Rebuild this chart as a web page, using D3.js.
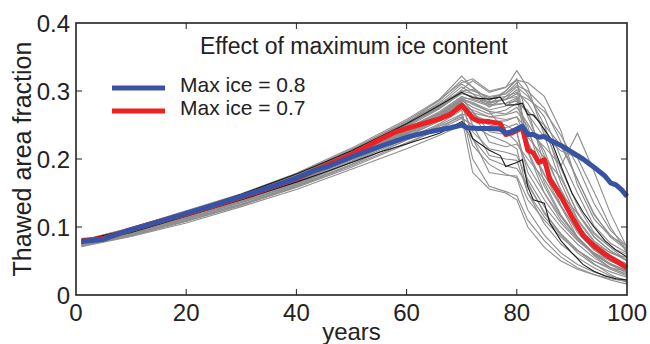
<!DOCTYPE html>
<html>
<head>
<meta charset="utf-8">
<script src="https://cdn.jsdelivr.net/npm/d3@7"></script>
<style>
  body { margin: 0; background: #fff; }
  svg { display: block; font-family: 'Liberation Sans', Arial, Helvetica, sans-serif; }
</style>
</head>
<body>
<svg id="chart"></svg>
<script>
const memberYears = [1, 10, 20, 30, 40, 50, 60, 66, 70, 72, 75, 78, 80, 82, 85, 88, 91, 94, 97, 100];

// thin gray ensemble members
const members = [
  [0.076,0.094,0.118,0.142,0.172,0.208,0.252,0.288,0.322,0.305,0.280,0.300,0.318,0.210,0.150,0.110,0.082,0.062,0.050,0.040],
  [0.078,0.097,0.122,0.147,0.176,0.212,0.250,0.275,0.302,0.315,0.298,0.305,0.330,0.305,0.235,0.165,0.112,0.080,0.062,0.052],
  [0.072,0.087,0.108,0.132,0.158,0.188,0.222,0.245,0.265,0.220,0.192,0.178,0.172,0.125,0.088,0.062,0.045,0.034,0.026,0.020],
  [0.077,0.095,0.119,0.143,0.170,0.204,0.242,0.266,0.286,0.276,0.266,0.272,0.282,0.272,0.192,0.132,0.092,0.066,0.050,0.040],
  [0.079,0.098,0.122,0.146,0.175,0.212,0.252,0.276,0.296,0.292,0.282,0.288,0.302,0.222,0.176,0.140,0.102,0.076,0.062,0.055],
  [0.071,0.086,0.106,0.130,0.155,0.185,0.215,0.235,0.250,0.230,0.200,0.190,0.186,0.162,0.122,0.090,0.066,0.046,0.030,0.018],
  [0.076,0.094,0.117,0.140,0.168,0.200,0.238,0.262,0.280,0.262,0.250,0.246,0.252,0.232,0.202,0.172,0.122,0.086,0.065,0.050],
  [0.078,0.097,0.121,0.145,0.174,0.208,0.248,0.280,0.306,0.296,0.276,0.292,0.306,0.292,0.262,0.202,0.150,0.102,0.076,0.062],
  [0.074,0.090,0.112,0.136,0.162,0.195,0.230,0.252,0.272,0.200,0.160,0.152,0.146,0.110,0.080,0.056,0.040,0.030,0.022,0.016],
  [0.077,0.095,0.118,0.142,0.170,0.205,0.244,0.268,0.290,0.280,0.270,0.266,0.276,0.252,0.212,0.152,0.102,0.072,0.056,0.046],
  [0.080,0.099,0.124,0.149,0.179,0.216,0.258,0.288,0.312,0.318,0.300,0.306,0.316,0.312,0.292,0.242,0.162,0.112,0.086,0.072],
  [0.075,0.092,0.114,0.138,0.166,0.199,0.236,0.258,0.278,0.240,0.215,0.210,0.205,0.170,0.130,0.100,0.075,0.055,0.040,0.030],
  [0.078,0.096,0.120,0.144,0.172,0.206,0.245,0.270,0.292,0.286,0.278,0.282,0.290,0.212,0.160,0.116,0.086,0.060,0.046,0.035],
  [0.073,0.089,0.111,0.134,0.161,0.192,0.228,0.250,0.266,0.262,0.255,0.256,0.262,0.242,0.218,0.190,0.238,0.182,0.120,0.070],
  [0.076,0.094,0.117,0.141,0.169,0.203,0.241,0.264,0.283,0.270,0.240,0.236,0.240,0.180,0.140,0.106,0.080,0.060,0.045,0.032],
  [0.079,0.098,0.123,0.148,0.177,0.214,0.254,0.281,0.300,0.296,0.288,0.292,0.298,0.282,0.242,0.186,0.132,0.092,0.070,0.060],
  [0.072,0.088,0.109,0.132,0.159,0.190,0.224,0.244,0.260,0.250,0.235,0.225,0.215,0.150,0.105,0.075,0.055,0.040,0.028,0.022],
  [0.076,0.095,0.118,0.141,0.169,0.202,0.240,0.266,0.288,0.283,0.272,0.278,0.288,0.266,0.232,0.212,0.202,0.152,0.100,0.062],
  [0.078,0.096,0.120,0.144,0.173,0.208,0.247,0.274,0.297,0.292,0.284,0.288,0.292,0.240,0.190,0.150,0.120,0.090,0.070,0.050],
  [0.073,0.089,0.110,0.133,0.160,0.192,0.228,0.248,0.262,0.180,0.156,0.150,0.140,0.100,0.070,0.050,0.038,0.030,0.024,0.020],
  [0.077,0.096,0.119,0.143,0.171,0.205,0.243,0.268,0.290,0.288,0.280,0.282,0.285,0.270,0.250,0.220,0.170,0.120,0.085,0.066],
  [0.075,0.093,0.116,0.139,0.166,0.200,0.237,0.260,0.282,0.265,0.255,0.250,0.240,0.165,0.120,0.090,0.066,0.050,0.038,0.028],
  [0.080,0.099,0.123,0.148,0.178,0.214,0.256,0.286,0.316,0.306,0.286,0.300,0.316,0.296,0.250,0.176,0.120,0.085,0.065,0.050],
  [0.077,0.095,0.118,0.141,0.168,0.203,0.239,0.262,0.284,0.230,0.180,0.176,0.175,0.140,0.110,0.085,0.065,0.050,0.040,0.035],
  [0.074,0.091,0.113,0.136,0.163,0.196,0.233,0.256,0.276,0.272,0.262,0.258,0.262,0.225,0.178,0.130,0.085,0.058,0.040,0.030],
  [0.079,0.097,0.121,0.146,0.175,0.210,0.250,0.278,0.300,0.302,0.290,0.296,0.308,0.300,0.275,0.225,0.170,0.118,0.088,0.068],
  [0.075,0.093,0.115,0.139,0.167,0.201,0.238,0.262,0.286,0.250,0.205,0.200,0.198,0.150,0.115,0.088,0.062,0.045,0.034,0.026],
  [0.078,0.097,0.121,0.146,0.174,0.209,0.249,0.276,0.298,0.290,0.283,0.287,0.296,0.288,0.270,0.235,0.190,0.135,0.095,0.072],
  [0.076,0.094,0.116,0.140,0.168,0.201,0.239,0.264,0.286,0.282,0.270,0.240,0.225,0.190,0.150,0.115,0.084,0.060,0.044,0.034],
  [0.074,0.091,0.113,0.137,0.164,0.197,0.234,0.257,0.274,0.268,0.262,0.265,0.270,0.248,0.165,0.118,0.085,0.062,0.046,0.036],
  [0.079,0.098,0.122,0.147,0.176,0.212,0.253,0.283,0.310,0.300,0.292,0.296,0.312,0.262,0.205,0.155,0.110,0.078,0.058,0.045],
  [0.077,0.095,0.118,0.142,0.170,0.204,0.242,0.266,0.288,0.270,0.225,0.218,0.222,0.200,0.170,0.130,0.095,0.068,0.050,0.040]
];

// two black members
const upperYears = [1, 10, 20, 30, 40, 45, 50, 55, 60, 66, 70, 72, 75, 77, 78, 80, 81, 82, 83, 84, 86, 88, 90, 92, 94, 96, 98, 100];
const upperVals  = [0.080, 0.097, 0.121, 0.148, 0.178, 0.195, 0.212, 0.232, 0.252, 0.279, 0.298, 0.290, 0.288, 0.291, 0.279, 0.280, 0.282, 0.265, 0.265, 0.255, 0.232, 0.190, 0.150, 0.122, 0.100, 0.080, 0.066, 0.056];
const lowerYears = [1, 10, 20, 30, 40, 45, 50, 55, 60, 66, 70, 71, 72, 75, 77, 78, 80, 81, 82, 83, 85, 86, 88, 90, 92, 94, 96, 98, 100];
const lowerVals  = [0.076, 0.092, 0.116, 0.140, 0.166, 0.180, 0.195, 0.210, 0.222, 0.238, 0.255, 0.248, 0.230, 0.213, 0.205, 0.189, 0.195, 0.199, 0.159, 0.140, 0.135, 0.106, 0.080, 0.062, 0.045, 0.035, 0.028, 0.024, 0.022];

// Max ice = 0.8
const blueYears = [1, 3, 5, 7, 10, 13, 16, 20, 25, 30, 35, 40, 43, 46, 50, 55, 60, 63, 66, 68, 70, 71, 73, 75, 77, 78, 79, 81, 82, 83, 84, 85, 86, 88, 90, 92, 94, 96, 97, 98, 99, 100];
const blueVals  = [0.079, 0.080, 0.082, 0.088, 0.096, 0.103, 0.110, 0.120, 0.132, 0.145, 0.158, 0.172, 0.182, 0.190, 0.203, 0.218, 0.232, 0.238, 0.243, 0.246, 0.250, 0.246, 0.245, 0.245, 0.244, 0.238, 0.240, 0.248, 0.236, 0.236, 0.232, 0.233, 0.228, 0.220, 0.210, 0.200, 0.188, 0.175, 0.165, 0.162, 0.155, 0.145];

// Max ice = 0.7
const redYears = [1, 5, 10, 15, 20, 25, 30, 35, 40, 43, 46, 50, 55, 58, 60, 63, 66, 68, 70, 71, 72, 73, 75, 77, 78, 79, 81, 82, 83, 84, 85, 86, 88, 89, 90, 92, 94, 96, 98, 100];
const redVals  = [0.080, 0.083, 0.096, 0.108, 0.119, 0.131, 0.144, 0.157, 0.171, 0.182, 0.193, 0.207, 0.228, 0.240, 0.245, 0.252, 0.259, 0.266, 0.279, 0.270, 0.260, 0.256, 0.255, 0.252, 0.236, 0.238, 0.246, 0.213, 0.209, 0.195, 0.199, 0.170, 0.145, 0.130, 0.115, 0.088, 0.072, 0.060, 0.050, 0.040];

const xTicks = [0, 20, 40, 60, 80, 100];
const yTicks = [0, 0.1, 0.2, 0.3, 0.4];
const legendLabels = ['Max ice = 0.8', 'Max ice = 0.7'];
const legendColors = ['#3953a4', '#ed2024'];

const W = 650, H = 344;
const margin = { top: 23, right: 23, bottom: 49, left: 76 };
const innerW = W - margin.left - margin.right;
const innerH = H - margin.top - margin.bottom;

const svg = d3.select('#chart').attr('width', W).attr('height', H);
const g = svg.append('g').attr('transform', `translate(${margin.left},${margin.top})`);

const x = d3.scaleLinear().domain([0, 100]).range([0, innerW]);
const y = d3.scaleLinear().domain([0, 0.4]).range([innerH, 0]);

const line = d3.line()
    .x(d => x(d[0]))
    .y(d => y(d[1]));

const zip = (xs, vs) => xs.map((t, i) => [t, vs[i]]);

// gray ensemble
g.append('g')
    .attr('class', 'members')
    .selectAll('path')
    .data(members)
    .enter()
    .append('path')
        .attr('d', d => line(zip(memberYears, d)))
        .attr('fill', 'none')
        .attr('stroke', '#8e8e8e')
        .attr('stroke-width', 1.1);

// black members
g.append('g')
    .attr('class', 'black-members')
    .selectAll('path')
    .data([zip(upperYears, upperVals), zip(lowerYears, lowerVals)])
    .enter()
    .append('path')
        .attr('d', d => line(d))
        .attr('fill', 'none')
        .attr('stroke', '#1a1a1a')
        .attr('stroke-width', 1.1);

// red then blue, thick
[[zip(redYears, redVals), legendColors[1]], [zip(blueYears, blueVals), legendColors[0]]].forEach(([pts, col]) => {
    g.append('path')
        .attr('d', line(pts))
        .attr('fill', 'none')
        .attr('stroke', col)
        .attr('stroke-width', 5)
        .attr('stroke-linejoin', 'round');
});

// box and inward ticks
g.append('rect')
    .attr('width', innerW)
    .attr('height', innerH)
    .attr('fill', 'none')
    .attr('stroke', '#222')
    .attr('stroke-width', 1.6);

const tickLen = 6;
const xAxis = g.append('g').attr('class', 'x-axis');
xAxis.selectAll('line.bot')
    .data(xTicks.slice(1, -1))
    .enter()
    .append('line')
        .attr('x1', d => x(d)).attr('x2', d => x(d))
        .attr('y1', innerH).attr('y2', innerH - tickLen)
        .attr('stroke', '#222');
xAxis.selectAll('line.top')
    .data(xTicks.slice(1, -1))
    .enter()
    .append('line')
        .attr('x1', d => x(d)).attr('x2', d => x(d))
        .attr('y1', 0).attr('y2', tickLen)
        .attr('stroke', '#222');
xAxis.selectAll('text')
    .data(xTicks)
    .enter()
    .append('text')
        .attr('x', d => x(d))
        .attr('y', innerH + 26)
        .attr('text-anchor', 'middle')
        .attr('font-size', 24)
        .attr('fill', '#222')
        .text(d => d);

const yAxis = g.append('g').attr('class', 'y-axis');
yAxis.selectAll('line.left')
    .data(yTicks.slice(1, -1))
    .enter()
    .append('line')
        .attr('x1', 0).attr('x2', tickLen)
        .attr('y1', d => y(d)).attr('y2', d => y(d))
        .attr('stroke', '#222');
yAxis.selectAll('line.right')
    .data(yTicks.slice(1, -1))
    .enter()
    .append('line')
        .attr('x1', innerW).attr('x2', innerW - tickLen)
        .attr('y1', d => y(d)).attr('y2', d => y(d))
        .attr('stroke', '#222');
yAxis.selectAll('text')
    .data(yTicks)
    .enter()
    .append('text')
        .attr('x', -6)
        .attr('y', d => y(d) + 9)
        .attr('text-anchor', 'end')
        .attr('font-size', 24)
        .attr('fill', '#222')
        .text(d => d === 0 ? '0' : d3.format('.1f')(d));

// axis titles
svg.append('text')
    .attr('x', margin.left + innerW / 2)
    .attr('y', 340)
    .attr('text-anchor', 'middle')
    .attr('font-size', 24)
    .attr('fill', '#222')
    .text('years');

svg.append('text')
    .attr('transform', `translate(31,${margin.top + innerH / 2}) rotate(-90)`)
    .attr('text-anchor', 'middle')
    .attr('font-size', 25)
    .attr('fill', '#222')
    .text('Thawed area fraction');

// title inside the axes
svg.append('text')
    .attr('x', 200)
    .attr('y', 54)
    .attr('font-size', 23)
    .attr('fill', '#222')
    .text('Effect of maximum ice content');

// legend
const legend = svg.append('g').attr('class', 'legend');
legendLabels.forEach((lab, i) => {
    const ly = 88 + i * 23;
    legend.append('line')
        .attr('x1', 112).attr('x2', 165)
        .attr('y1', ly).attr('y2', ly)
        .attr('stroke', legendColors[i])
        .attr('stroke-width', 5);
    legend.append('text')
        .attr('x', 180)
        .attr('y', ly + 4)
        .attr('font-size', 21)
        .attr('fill', '#222')
        .text(lab);
});
</script>
</body>
</html>
